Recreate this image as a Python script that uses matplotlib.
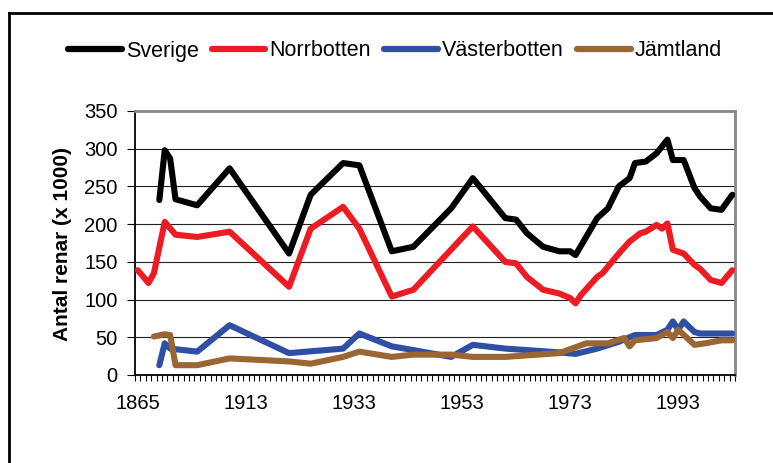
import matplotlib
matplotlib.use("Agg")
from matplotlib import pyplot as plt
from matplotlib import rcParams
from matplotlib.lines import Line2D
import numpy as np

rcParams["font.family"] = ["Liberation Sans", "DejaVu Sans"]

# category axis (Excel style): 111 categories, label every 20th
n_cat = 111
tick_pos = [0, 20, 40, 60, 80, 100]
tick_labels = ["1865", "1913", "1933", "1953", "1973", "1993"]

# series: category index -> value (x 1000 reindeer)
sverige_x = [4, 5, 6, 7, 11, 17, 28, 32, 38, 41, 47, 51, 58, 62, 68, 70, 72, 75, 78, 80, 81,
             85, 87, 89, 91, 92, 94, 96, 98, 99, 101, 103, 104, 106, 108, 110]
sverige_y = [232, 298, 287, 233, 225, 274, 161, 239, 281, 278, 164, 170, 221, 261, 208, 206, 188, 170, 164, 164, 159,
             208, 221, 250, 261, 281, 283, 294, 312, 285, 285, 248, 237, 221, 219, 239]

norrbotten_x = [0, 2, 3, 5, 7, 11, 17, 28, 32, 38, 41, 47, 51, 62, 68, 70, 72, 75, 78, 80, 81, 82,
                85, 86, 89, 91, 93, 94, 96, 97, 98, 99, 101, 103, 104, 106, 108, 110]
norrbotten_y = [139, 122, 135, 203, 186, 183, 190, 117, 194, 223, 194, 104, 113, 197, 150, 148, 130, 113, 108, 102, 95, 106,
                130, 135, 161, 177, 188, 190, 199, 194, 201, 166, 161, 146, 141, 126, 122, 139]

vasterbotten_x = [4, 5, 6, 11, 17, 28, 38, 41, 47, 51, 58, 62, 68, 78, 81, 85, 89, 92, 96, 98, 99, 100,
                  101, 103, 104, 110]
vasterbotten_y = [13, 42, 35, 31, 66, 29, 35, 55, 38, 33, 24, 40, 35, 30, 28, 35, 44, 53, 53, 60, 71, 60,
                  71, 57, 55, 55]

jamtland_x = [3, 5, 6, 7, 11, 17, 28, 32, 38, 41, 47, 51, 58, 62, 68, 78, 83, 87, 90, 91, 92, 96, 98,
              99, 100, 103, 105, 108, 110]
jamtland_y = [51, 54, 53, 13, 13, 22, 18, 15, 24, 31, 24, 27, 27, 24, 24, 29, 42, 42, 49, 38, 46, 49, 57,
              49, 60, 40, 42, 46, 46]

series = [
    ("Sverige", sverige_x, sverige_y, "#000000"),
    ("Norrbotten", norrbotten_x, norrbotten_y, "#ED1C24"),
    ("Västerbotten", vasterbotten_x, vasterbotten_y, "#2E4FA3"),
    ("Jämtland", jamtland_x, jamtland_y, "#9A6633"),
]

W, H = 773, 463
fig = plt.figure(figsize=(W / 100, H / 100), dpi=100)
ax = fig.add_axes([135 / W, 1 - 375 / H, 600 / W, 264 / H])

for name, xs, ys, col in series:
    ax.plot(xs, ys, color=col, linewidth=4.4, solid_joinstyle="round",
            solid_capstyle="round", label=name, zorder=3)

ax.set_xlim(-0.5, n_cat - 0.5)
ax.set_ylim(0, 350)
ax.set_yticks(np.arange(0, 351, 50))
ax.yaxis.grid(True, color="#222222", linewidth=0.8)
ax.set_axisbelow(True)

# tick marks on category boundaries, labels at category centres
ax.set_xticks(np.arange(n_cat + 1) - 0.5)
ax.set_xticklabels([])
ax.set_xticks(tick_pos, minor=True)
ax.set_xticklabels(tick_labels, minor=True)
ax.tick_params(axis="x", which="major", length=4, width=0.8, color="black", direction="out")
ax.tick_params(axis="x", which="minor", length=0, pad=14, labelsize=14.5)
ax.tick_params(axis="y", which="major", length=5.5, width=0.8, pad=7, labelsize=14.5)

for s in ["left", "bottom"]:
    ax.spines[s].set_color("black")
    ax.spines[s].set_linewidth(1.3)
for s in ["top", "right"]:
    ax.spines[s].set_color("#888888")
    ax.spines[s].set_linewidth(2)

fig.text(62 / W, 1 - 244 / H, "Antal renar (x 1000)", rotation=90, fontsize=15,
         fontweight="bold", ha="center", va="center")

handles = [Line2D([0], [0], color=c, linewidth=4.5, solid_capstyle="round") for _, _, _, c in series]
fig.legend(handles, [s[0] for s in series], loc="center", bbox_to_anchor=(395 / W, 1 - 51 / H),
           ncol=4, frameon=False, fontsize=15.5, handlelength=2.5, handletextpad=0.2,
           columnspacing=0.6)

# outer chart border (cut off at the right and bottom)
fig.add_artist(Line2D([9 / W, 9 / W], [0, 1 - 13 / H], color="black", linewidth=2,
                      transform=fig.transFigure))
fig.add_artist(Line2D([9 / W, 1], [1 - 13 / H, 1 - 13 / H], color="black", linewidth=2,
                      transform=fig.transFigure))

plt.savefig("out.png", dpi=100)
